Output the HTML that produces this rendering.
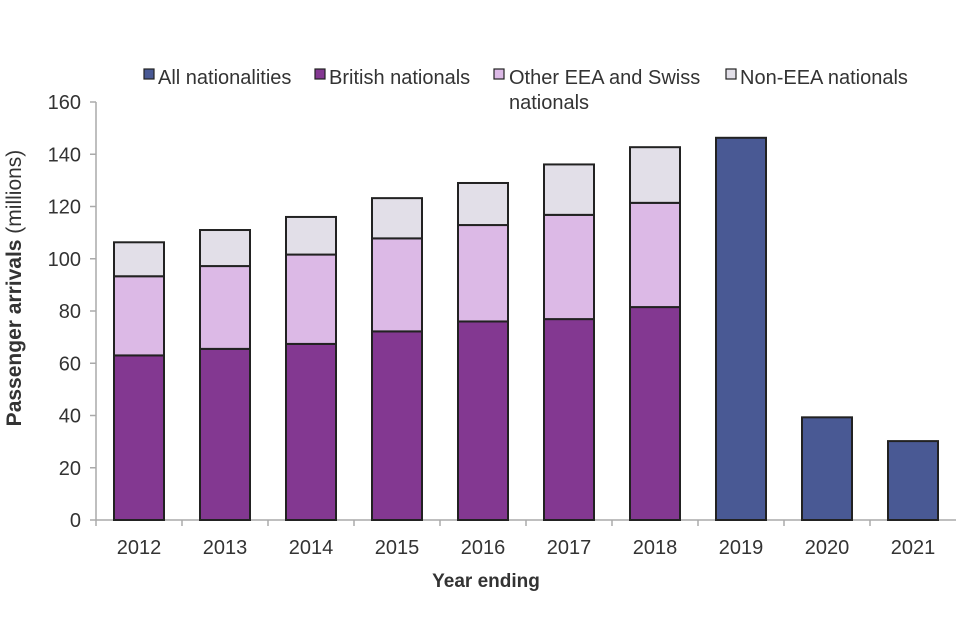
<!DOCTYPE html>
<html><head><meta charset="utf-8"><style>
body{margin:0;background:#fff;}
svg{display:block;font-family:"Liberation Sans",Arial,sans-serif;}
</style></head><body>
<svg id="chart" width="960" height="640" viewBox="0 0 960 640">
<g id="legend" font-size="20" fill="#333">
 <g><rect x="144" y="69" width="10" height="10" fill="#495994" stroke="#222" stroke-width="1.2"/><text x="158" y="84">All nationalities</text></g>
 <g><rect x="315" y="69" width="10" height="10" fill="#833891" stroke="#222" stroke-width="1.2"/><text x="329" y="84">British nationals</text></g>
 <g><rect x="494" y="69" width="10" height="10" fill="#dcb9e6" stroke="#222" stroke-width="1.2"/><text x="509" y="84">Other EEA and Swiss</text><text x="509" y="109">nationals</text></g>
 <g><rect x="726" y="69" width="10" height="10" fill="#e2dfe8" stroke="#222" stroke-width="1.2"/><text x="740" y="84">Non-EEA nationals</text></g>
</g>
<g id="axes"></g>
<g id="bars"></g>
<text x="486" y="587" font-size="19" font-weight="bold" fill="#333" text-anchor="middle">Year ending</text>
<text transform="translate(21,288) rotate(-90)" font-size="21" fill="#333" text-anchor="middle"><tspan font-weight="bold">Passenger arrivals</tspan> (millions)</text>
</svg>
<script>
const categories=["2012","2013","2014","2015","2016","2017","2018","2019","2020","2021"];
const british=[63,65.5,67.4,72.2,76,76.9,81.5,null,null,null];
const otherEEA=[30.3,31.7,34.2,35.6,36.9,39.9,39.9,null,null,null];
const nonEEA=[13,13.8,14.4,15.4,16.1,19.3,21.3,null,null,null];
const allNationalities=[null,null,null,null,null,null,null,146.3,39.3,30.2];
const yTicks=[0,20,40,60,80,100,120,140,160];
const NS="http://www.w3.org/2000/svg";
const x0=96,catW=86,y0=520,yTop=102,yMax=160,barW=50;
function yS(v){return y0-(v/yMax)*(y0-yTop);}
function xC(i){return x0+catW*i+catW/2;}
function mk(tag,attrs,parent){const e=document.createElementNS(NS,tag);for(const k in attrs)e.setAttribute(k,attrs[k]);parent.appendChild(e);return e;}
const axes=document.getElementById('axes'),bars=document.getElementById('bars');
const ya=mk('line',{x1:x0,y1:yTop,x2:x0,y2:y0,stroke:'#aaa','stroke-width':1.5},axes);


yTicks.forEach(t=>{
 const y=yS(t);
 mk('line',{x1:x0-6,y1:y,x2:x0,y2:y,stroke:'#aaa','stroke-width':1.5},axes);
 const tx=mk('text',{x:x0-15,y:y+7,'font-size':20,fill:'#333','text-anchor':'end'},axes);
 tx.textContent=t;
 
 
});
const xa=mk('line',{x1:x0,y1:y0,x2:x0+catW*categories.length,y2:y0,stroke:'#aaa','stroke-width':1.5},axes);


categories.forEach((c,i)=>{
 const xt=x0+catW*i;
 mk('line',{x1:xt,y1:y0,x2:xt,y2:y0+6,stroke:'#aaa','stroke-width':1.5},axes);
 const tx=mk('text',{x:xC(i),y:554,'font-size':20,fill:'#333','text-anchor':'middle'},axes);
 tx.textContent=c;
 
 
});
function seg(i,from,val,fill,name){
 const yt=yS(from+val),yb=yS(from);
 const r=mk('rect',{x:xC(i)-barW/2,y:yt,width:barW,height:yb-yt,fill:fill,stroke:'#222','stroke-width':2},bars);
 
 
}
categories.forEach((c,i)=>{
 if(allNationalities[i]!=null){seg(i,0,allNationalities[i],'#495994','bar-all');return;}
 seg(i,0,british[i],'#833891','bar-british');
 seg(i,british[i],otherEEA[i],'#dcb9e6','bar-other-eea');
 seg(i,british[i]+otherEEA[i],nonEEA[i],'#e2dfe8','bar-non-eea');
});
</script>
</body></html>
